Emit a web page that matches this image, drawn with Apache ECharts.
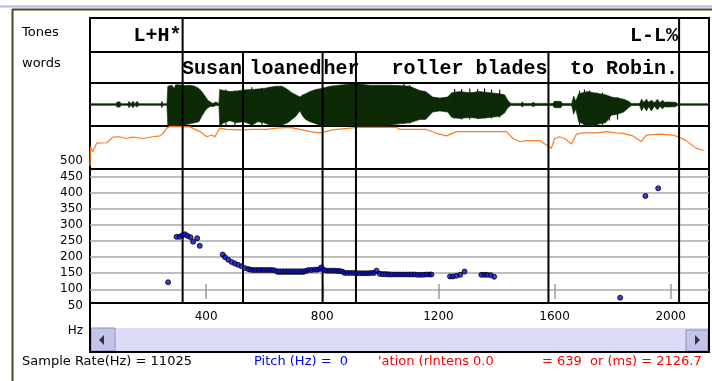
<!DOCTYPE html>
<html>
<head>
<meta charset="utf-8">
<script src="https://cdn.jsdelivr.net/npm/echarts@6/dist/echarts.min.js"></script>
<style>
  html, body { margin: 0; padding: 0; background: #fff; }
  #chart { width: 712px; height: 381px; }
</style>
</head>
<body>
<div id="chart"></div>
<script>
// time axis (ms)
var timeMax = 2132
var timeTicks = [400, 800, 1200, 1600, 2000]
var pitchTicks = [50, 100, 150, 200, 250, 300, 350, 400, 450, 500]

// ToBI tier + word tier
var toneTimes = [319, 2029]
var toneLabels = ['L+H*', 'L-L%']
var wordStarts = [319, 527, 801, 916, 1579]
var wordEnds = [527, 801, 916, 1579, 2029]
var wordLabels = ['Susan', 'loaned', 'her', 'roller blades', 'to Robin.']
var boundaries = [319, 527, 801, 916, 1579, 2029]

// waveform envelope: [ms, upper, lower] (amplitude -1..1)
var waveEnvelope = [
  [0, .04, -.04], [90, .04, -.04], [93, .12, -.12], [103, .12, -.12], [107, .04, -.04],
  [131, .04, -.04], [134, .15, -.15], [141, .04, -.04], [148, .15, -.15], [155, .04, -.04],
  [162, .15, -.12], [169, .04, -.04], [244, .04, -.04], [248, .15, -.15], [251, .04, -.04],
  [265, .04, -.04], [268, .85, -1], [282, .9, -1], [290, .75, -1], [295, .92, -1], [303, .92, -.98], [327, .88, -.95],
  [344, .9, -.9], [361, .85, -.85], [375, .75, -.8], [385, .6, -.55], [396, .4, -.3],
  [406, .2, -.15], [416, .1, -.08], [423, .05, -.1], [434, .12, -.05], [444, .05, -.05],
  [447, .7, -1], [461, .65, -.85], [482, .6, -.75], [502, .62, -.85], [530, .68, -.8],
  [558, .7, -.95], [578, .72, -.8], [599, .75, -.85], [619, .8, -.95], [640, .85, -1],
  [661, .85, -.95], [681, .7, -.85], [695, .55, -.7], [709, .45, -.55], [723, .35, -.3],
  [733, .45, -.55], [743, .5, -.7], [757, .6, -.8], [778, .7, -.9], [798, .75, -1],
  [826, .85, -1], [860, .9, -1], [895, .95, -1], [929, .95, -1], [964, .9, -1],
  [998, .9, -1], [1032, .9, -.95], [1067, .88, -.9], [1101, .85, -.85], [1136, .65, -.7],
  [1156, .6, -.7], [1180, .35, -.35], [1205, .3, -.3], [1232, .35, -.35], [1246, .55, -.6],
  [1273, .6, -.65], [1308, .55, -.6], [1342, .6, -.65], [1377, .55, -.6], [1411, .5, -.55],
  [1428, .45, -.4], [1439, .2, -.15], [1449, .05, -.05], [1483, .05, -.05], [1490, .12, -.12],
  [1494, .05, -.05], [1521, .05, -.05], [1525, .1, -.1], [1535, .05, -.05], [1593, .05, -.05],
  [1600, .15, -.15], [1621, .15, -.15], [1628, .05, -.05], [1659, .05, -.05], [1666, .4, -.45],
  [1673, .15, -.2], [1683, .5, -.8], [1697, .55, -.9], [1714, .6, -1], [1734, .55, -1],
  [1755, .5, -.9], [1776, .45, -.85], [1796, .35, -.5], [1817, .3, -.45], [1838, .25, -.35],
  [1855, .15, -.15], [1865, .05, -.05], [1893, .05, -.05], [1900, .25, -.3], [1907, .1, -.1],
  [1917, .25, -.3], [1924, .1, -.1], [1934, .2, -.3], [1944, .08, -.08], [1955, .25, -.25],
  [1962, .08, -.08], [1972, .2, -.2], [1979, .1, -.1], [1989, .12, -.12], [2017, .1, -.1],
  [2024, .04, -.04], [2132, .04, -.04]
]
// single-cycle spikes standing out of the envelope: [ms, upper, lower]
var waveSpikes = [
  [468, .7, -1], [499, .65, -.95], [557, .8, -.95], [592, .78, -1], [626, .8, -1],
  [1081, .95, -.9], [1101, .9, -.88], [1256, .72, -.65], [1280, .72, -.7], [1308, .75, -.7],
  [1335, .72, -.68], [1359, .75, -.65], [1383, .7, -.65], [1411, .7, -.6],
  [1686, .65, -1], [1703, .7, -1], [1721, .65, -.95], [1745, .55, -1], [1765, .55, -.95],
  [1789, .4, -.75], [1817, .35, -.7]
]

// intensity track (0..100 of panel)
var intensityT = [0, 2, 9, 23, 58, 79, 103, 126, 148, 182, 217, 241, 252, 264, 275, 344, 379, 402, 419, 430,
  447, 470, 516, 561, 608, 643, 688, 723, 757, 792, 836, 895, 918, 1055, 1067, 1159, 1193, 1228, 1262, 1434,
  1457, 1480, 1503, 1549, 1572, 1589, 1600, 1617, 1635, 1658, 1675, 1698, 1744, 1778, 1813, 1835, 1870, 1899,
  1916, 1962, 2007, 2030, 2053, 2088, 2116]
var intensityV = [7, 52, 40, 60, 61, 74, 75, 71, 74, 71, 75, 77, 83, 95, 99, 98, 87, 75, 79, 75,
  95, 92, 91, 92, 92, 95, 97, 92, 87, 84, 91, 95, 97, 97, 92, 92, 83, 77, 87, 87,
  71, 64, 66, 66, 56, 48, 71, 75, 71, 58, 81, 84, 84, 87, 84, 83, 77, 64,
  79, 81, 79, 74, 66, 48, 43]

// pitch track (Hz)
var pitchT = [269, 298, 308, 318, 327, 336, 346, 355, 369, 378,
  457, 465, 476, 488, 499, 510, 522, 533, 545, 553, 562, 571, 580, 589, 598, 607, 616, 625, 634,
  644, 654, 664, 674, 684, 694, 704, 714, 724, 734, 744, 752, 762, 772, 782, 791, 797,
  806, 815, 824, 833, 842, 851, 860, 869, 878, 888, 898, 908, 918, 928, 938, 948, 958, 968, 978, 987,
  998, 1008, 1018, 1028, 1038, 1048, 1058, 1068, 1078, 1088, 1098, 1108, 1118, 1128, 1138, 1148, 1158, 1168, 1176,
  1240, 1250, 1262, 1275, 1290, 1348, 1358, 1368, 1380, 1392, 1826, 1913, 1957]
var pitchV = [122, 263, 263, 268, 271, 266, 262, 248, 259, 235,
  208, 200, 192, 185, 180, 176, 172, 166, 163, 161, 160, 160, 160, 160, 160, 160, 160, 160, 159,
  156, 156, 156, 156, 156, 156, 156, 156, 156, 156, 157, 160, 160, 161, 161, 163, 168,
  160, 158, 158, 158, 158, 157, 157, 155, 151, 151, 151, 151, 150, 150, 150, 150, 150, 151, 151, 158,
  148, 147, 147, 146, 146, 146, 146, 146, 146, 146, 146, 146, 146, 145, 145, 145, 146, 146, 146,
  140, 140, 142, 145, 155, 145, 145, 145, 144, 139, 74, 390, 414]
// stylized pitch segments [start ms, end ms, Hz]
var stylizedSegs = [[642, 740, 148], [871, 1033, 152]]

var LEFT = 90
var WIDTH = 619
var labelFont = 'DejaVu Sans'
var monoFont = '"Liberation Mono", monospace'
var waveColor = '#0c2a05'

var measureCtx = document.createElement('canvas').getContext('2d')
measureCtx.font = 'bold 20px "Liberation Mono"'

function renderDivider(params, api) {
  var cs = params.coordSys
  var x = api.coord([api.value(0), api.value(1)])[0]
  return {
    type: 'line',
    shape: { x1: x, y1: cs.y, x2: x, y2: cs.y + cs.height },
    style: { stroke: '#000', lineWidth: 2 }
  }
}

function renderTone(params, api) {
  var cs = params.coordSys
  var x = api.coord([api.value(0), 0.5])[0]
  return {
    type: 'text',
    style: {
      x: x - 1, y: cs.y + cs.height / 2 + 1, text: toneLabels[params.dataIndex],
      fill: '#000', fontSize: 20, fontWeight: 'bold', fontFamily: monoFont,
      align: 'right', verticalAlign: 'middle'
    }
  }
}

function renderWord(params, api) {
  var cs = params.coordSys
  var x0 = api.coord([api.value(0), 0.5])[0]
  var x1 = api.coord([api.value(1), 0.5])[0]
  var label = wordLabels[params.dataIndex]
  var w = measureCtx.measureText(label).width
  var fits = w <= x1 - x0
  return {
    type: 'text',
    style: {
      x: fits ? x1 - 1 : x0 + 1, y: cs.y + cs.height / 2 + 1, text: label,
      fill: '#000', fontSize: 20, fontWeight: 'bold', fontFamily: monoFont,
      align: fits ? 'right' : 'left', verticalAlign: 'middle'
    }
  }
}

function renderWave(params, api) {
  var upper = []
  var lower = []
  waveEnvelope.forEach(function (r) {
    upper.push(api.coord([r[0], r[1]]))
    lower.unshift(api.coord([r[0], r[2]]))
  })
  return {
    type: 'polygon',
    shape: { points: upper.concat(lower) },
    style: { fill: waveColor, stroke: waveColor, lineWidth: 0.6 }
  }
}

function renderSpike(params, api) {
  var p0 = api.coord([api.value(0), api.value(1)])
  var p1 = api.coord([api.value(0), api.value(2)])
  return {
    type: 'line',
    shape: { x1: p0[0], y1: p0[1], x2: p1[0], y2: p1[1] },
    style: { stroke: waveColor, lineWidth: 1.2 }
  }
}

function renderSeg(params, api) {
  var p0 = api.coord([api.value(0), api.value(2)])
  var p1 = api.coord([api.value(1), api.value(2)])
  return {
    type: 'line',
    shape: { x1: p0[0], y1: p0[1], x2: p1[0], y2: p1[1] },
    style: { stroke: '#4a4a4a', lineWidth: 2 }
  }
}

function divData() {
  return boundaries.map(function (t) { return [t, 0] })
}

var frame = { show: true, borderColor: '#000', borderWidth: 2, backgroundColor: 'transparent' }
function grid(top, height, extra) {
  return Object.assign({ left: LEFT, top: top, width: WIDTH, height: height }, extra)
}

var hiddenX = function (i) {
  return { gridIndex: i, type: 'value', min: 0, max: timeMax, show: false }
}
var hiddenY = function (i, mn, mx) {
  return { gridIndex: i, type: 'value', min: mn, max: mx, show: false }
}

var chart = echarts.init(document.getElementById('chart'))
chart.setOption({
  animation: false,
  backgroundColor: '#fff',
  grid: [
    grid(18, 34, frame),
    grid(52, 31, frame),
    grid(83, 43, frame),
    grid(126, 43, frame),
    grid(160.6, 144.8, { show: false }),
    grid(169, 134, frame)
  ],
  xAxis: [
    hiddenX(0), hiddenX(1), hiddenX(2), hiddenX(3),
    {
      gridIndex: 4, type: 'value', min: 0, max: timeMax,
      axisLine: { show: false }, axisTick: { show: false }, splitLine: { show: false },
      axisLabel: {
        customValues: timeTicks, margin: 5,
        formatter: function (v) { return String(v) },
        color: '#000', fontSize: 12, fontFamily: labelFont
      }
    },
    {
      gridIndex: 5, type: 'value', min: 0, max: timeMax,
      offset: -4,
      axisLine: { show: false }, axisLabel: { show: false }, splitLine: { show: false },
      axisTick: {
        show: true, customValues: timeTicks, inside: true, length: 15,
        lineStyle: { color: '#9a9a9a', width: 1.5 }
      }
    }
  ],
  yAxis: [
    hiddenY(0, 0, 1), hiddenY(1, 0, 1), hiddenY(2, -1, 1), hiddenY(3, 0, 100),
    {
      gridIndex: 4, type: 'value',
      min: pitchTicks[0], max: pitchTicks[pitchTicks.length - 1], interval: pitchTicks[1] - pitchTicks[0],
      axisLine: { show: false }, axisTick: { show: false },
      axisLabel: { margin: 7, color: '#000', fontSize: 12, fontFamily: labelFont },
      splitLine: {
        show: true, showMinLine: false, showMaxLine: false,
        lineStyle: { color: '#a8a8a8', width: 1.5 }
      }
    },
    hiddenY(5, 0, 1)
  ],
  series: [
    {
      type: 'custom', xAxisIndex: 0, yAxisIndex: 0, renderItem: renderTone, z: 5,
      data: toneTimes.map(function (t) { return [t, 0.5] })
    },
    {
      type: 'custom', xAxisIndex: 0, yAxisIndex: 0, renderItem: renderDivider, z: 4,
      data: toneTimes.map(function (t) { return [t, 0] })
    },
    {
      type: 'custom', xAxisIndex: 1, yAxisIndex: 1, renderItem: renderWord, z: 5,
      encode: { x: [0, 1], y: 2 },
      data: wordStarts.map(function (s, i) { return [s, wordEnds[i], 0.5] })
    },
    { type: 'custom', xAxisIndex: 1, yAxisIndex: 1, renderItem: renderDivider, z: 4, data: divData() },
    { type: 'custom', xAxisIndex: 2, yAxisIndex: 2, renderItem: renderWave, z: 2, data: [[0, 0]] },
    {
      type: 'custom', xAxisIndex: 2, yAxisIndex: 2, renderItem: renderSpike, z: 2,
      encode: { x: 0, y: [1, 2] }, data: waveSpikes
    },
    { type: 'custom', xAxisIndex: 2, yAxisIndex: 2, renderItem: renderDivider, z: 4, data: divData() },
    {
      type: 'line', xAxisIndex: 3, yAxisIndex: 3, showSymbol: false, z: 2,
      lineStyle: { color: '#ff7a22', width: 1.2 },
      data: intensityT.map(function (t, i) { return [t, intensityV[i]] })
    },
    { type: 'custom', xAxisIndex: 3, yAxisIndex: 3, renderItem: renderDivider, z: 4, data: divData() },
    {
      type: 'custom', xAxisIndex: 4, yAxisIndex: 4, renderItem: renderSeg, z: 2,
      encode: { x: [0, 1], y: 2 },
      data: stylizedSegs
    },
    {
      type: 'scatter', xAxisIndex: 4, yAxisIndex: 4, z: 6, symbolSize: 5,
      itemStyle: { color: '#0a0ad8', borderColor: '#000', borderWidth: 1 },
      data: pitchT.map(function (t, i) { return [t, pitchV[i]] })
    },
    { type: 'custom', xAxisIndex: 5, yAxisIndex: 5, renderItem: renderDivider, z: 4, data: divData() }
  ],
  graphic: [
    { type: 'line', shape: { x1: 0, y1: 6.5, x2: 712, y2: 6.5 }, style: { stroke: '#b4b4e6', lineWidth: 2 } },
    { type: 'line', shape: { x1: 12, y1: 9.5, x2: 712, y2: 9.5 }, style: { stroke: '#4b4a2a', lineWidth: 2 } },
    { type: 'line', shape: { x1: 12.5, y1: 9, x2: 12.5, y2: 381 }, style: { stroke: '#4b4a2a', lineWidth: 2 } },
    { type: 'text', style: { x: 22, y: 33, text: 'Tones', fill: '#000', fontSize: 13, fontFamily: labelFont, verticalAlign: 'middle' } },
    { type: 'text', style: { x: 22, y: 64, text: 'words', fill: '#000', fontSize: 13, fontFamily: labelFont, verticalAlign: 'middle' } },
    { type: 'text', style: { x: 83, y: 331, text: 'Hz', fill: '#000', fontSize: 12, fontFamily: labelFont, align: 'right', verticalAlign: 'middle' } },
    // scrollbar box
    { type: 'rect', shape: { x: 91, y: 328, width: 617, height: 23 }, style: { fill: '#dcdcf6' } },
    { type: 'rect', shape: { x: 91, y: 328, width: 24, height: 23 }, style: { fill: '#c4c4ea', stroke: '#8f8fb8', lineWidth: 1 } },
    { type: 'polygon', shape: { points: [[99, 340], [104, 335], [104, 345]] }, style: { fill: '#333' } },
    { type: 'rect', shape: { x: 686, y: 330, width: 22, height: 21 }, style: { fill: '#c4c4ea', stroke: '#8f8fb8', lineWidth: 1 } },
    { type: 'polygon', shape: { points: [[700, 340], [695, 335], [695, 345]] }, style: { fill: '#333' } },
    { type: 'rect', shape: { x: 90, y: 303, width: 619, height: 49 }, style: { fill: 'none', stroke: '#000', lineWidth: 2 } },
    // status line
    { type: 'text', style: { x: 22, y: 362, text: 'Sample Rate(Hz) = 11025', fill: '#000', fontSize: 13, fontFamily: labelFont, verticalAlign: 'middle' } },
    { type: 'text', style: { x: 254, y: 362, text: 'Pitch (Hz) =  0', fill: '#0000ff', fontSize: 13, fontFamily: labelFont, verticalAlign: 'middle' } },
    { type: 'text', style: { x: 378, y: 362, text: "'ation (rlntens 0.0", fill: '#ff0000', fontSize: 13, fontFamily: labelFont, verticalAlign: 'middle' } },
    { type: 'text', style: { x: 542, y: 362, text: '= 639', fill: '#ff0000', fontSize: 13, fontFamily: labelFont, verticalAlign: 'middle' } },
    { type: 'text', style: { x: 590, y: 362, text: 'or (ms) = 2126.7', fill: '#ff0000', fontSize: 13, fontFamily: labelFont, verticalAlign: 'middle' } }
  ]
})
</script>
</body>
</html>
